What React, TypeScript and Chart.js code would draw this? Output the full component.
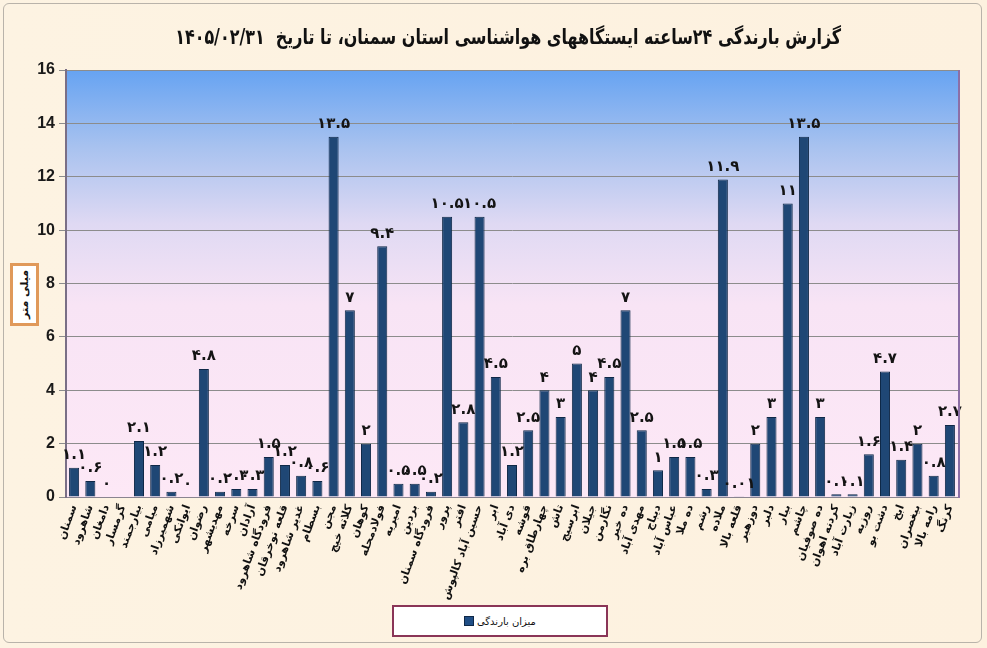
import React, { useEffect, useRef } from "react";
import { Chart, registerables } from "chart.js";

Chart.register(...registerables);

const titleText = "گزارش بارندگی ۲۴ساعته ایستگاههای هواشناسی استان سمنان، تا تاریخ  ۱۴۰۵/۰۲/۳۱";
const yAxisTitle = "میلی متر";
const seriesName = "میزان بارندگی";

const stations: string[] = [
  "سمنان", "شاهرود", "دامغان", "گرمسار", "بیارجمند", "میامی", "شهمیرزاد", "ایوانکی",
  "رضوان", "مهدیشهر", "سرخه", "آرادان", "فرودگاه شاهرود", "قلعه نوخرقان", "غدیر شاهرود",
  "بسطام", "مجن", "کلاته خیج", "کوهان", "فولادمحله", "امیریه", "بردین", "فرودگاه سمنان",
  "پرور", "افتر", "حسین آباد کالپوش", "ابر", "دی آباد", "قوشه", "چهارطاق بره", "تاش",
  "ابرسیج", "جیلان", "نگارمن", "ده خیر", "مهدی آباد", "دیباج", "عباس آباد", "ده ملا",
  "رشم", "ملاده", "قلعه بالا", "دوزهیر", "دلبر", "بیار", "چاشم", "ده صوفیان",
  "کردنه اهوان", "زیارت آباد", "روزیه", "دشت بو", "ابخ", "بیغصران", "رامه بالا", "کرنگ",
];

const rainfall: (number | null)[] = [
  1.1, 0.6, 0, null, 2.1, 1.2, 0.2, 0,
  4.8, 0.2, 0.3, 0.3, 1.5, 1.2, 0.8,
  0.6, 13.5, 7, 2, 9.4, 0.5, 0.5, 0.2,
  10.5, 2.8, 10.5, 4.5, 1.2, 2.5, 4, 3,
  5, 4, 4.5, 7, 2.5, 1, 1.5, 1.5,
  0.3, 11.9, 0.01, 2, 3, 11, 13.5, 3,
  0.1, 0.1, 1.6, 4.7, 1.4, 2, 0.8, 2.7,
];

const yMin = 0;
const yMax = 16;
const yStep = 2;

const faDigits = "۰۱۲۳۴۵۶۷۸۹";
const toFa = (s: string) => s.replace(/[0-9]/g, (d) => faDigits[+d]);

const W = 987;
const H = 648;
const PLOT_LEFT = 66;
const PLOT_RIGHT = 958;
const PLOT_TOP = 70;
const PLOT_BOTTOM = 497;

const bgPlugin = {
  id: "plotBg",
  beforeDraw(chart: any) {
    const { ctx, chartArea } = chart;
    const { left, right, top, bottom } = chartArea;
    const g = ctx.createLinearGradient(0, top, 0, bottom);
    g.addColorStop(0, "#66a3f2");
    g.addColorStop(0.18, "#a8c2ef");
    g.addColorStop(0.36, "#dfd9f3");
    g.addColorStop(0.55, "#f8e4f5");
    g.addColorStop(1, "#fde8f6");
    ctx.save();
    ctx.fillStyle = g;
    ctx.fillRect(left, top, right - left, bottom - top);
    ctx.restore();
  },
  afterDraw(chart: any) {
    const { ctx, chartArea } = chart;
    const { right, top, bottom } = chartArea;
    ctx.save();
    ctx.strokeStyle = "#8c6fa6";
    ctx.lineWidth = 2;
    ctx.beginPath();
    ctx.moveTo(right + 1, top);
    ctx.lineTo(right + 1, bottom + 1);
    ctx.stroke();
    ctx.restore();
  },
};

const valueLabelPlugin = {
  id: "valueLabels",
  afterDatasetsDraw(chart: any) {
    const { ctx } = chart;
    const meta = chart.getDatasetMeta(0);
    const data = chart.data.datasets[0].data;
    ctx.save();
    ctx.font = "bold 15px 'DejaVu Sans', sans-serif";
    ctx.fillStyle = "#141414";
    ctx.textAlign = "center";
    ctx.textBaseline = "bottom";
    meta.data.forEach((el: any, i: number) => {
      const v = data[i];
      if (v === null || v === undefined) return;
      ctx.fillText(toFa(String(v)), el.x, el.y - 5);
    });
    ctx.restore();
  },
};

export default function App() {
  const canvasRef = useRef<HTMLCanvasElement | null>(null);

  useEffect(() => {
    document.body.style.margin = "0";
    const canvas = canvasRef.current;
    if (!canvas) return;
    const chart = new Chart(canvas, {
      type: "bar",
      data: {
        labels: stations,
        datasets: [
          {
            label: seriesName,
            data: rainfall,
            backgroundColor: "#1f4775",
            borderColor: "#0f2847",
            borderWidth: 1,
            barPercentage: 0.62,
            categoryPercentage: 1,
          },
        ],
      },
      options: {
        responsive: false,
        animation: false,
        devicePixelRatio: 1,
        layout: {
          padding: { top: PLOT_TOP, right: W - PLOT_RIGHT, left: 0, bottom: 0 },
        },
        plugins: {
          legend: { display: false },
          title: { display: false },
          tooltip: { enabled: false },
        },
        scales: {
          x: {
            afterFit: (scale: any) => {
              scale.height = H - PLOT_BOTTOM;
            },
            grid: { display: false, drawTicks: false },
            border: { display: true, color: "#8a8490", width: 1 },
            ticks: {
              autoSkip: false,
              minRotation: 70,
              maxRotation: 70,
              padding: 6,
              color: "#111",
              font: { family: "'DejaVu Sans', sans-serif", size: 11, weight: "bold" },
            },
          },
          y: {
            min: yMin,
            max: yMax,
            afterFit: (scale: any) => {
              scale.width = PLOT_LEFT;
            },
            grid: {
              color: "#8c8c8c",
              lineWidth: 1,
              drawTicks: true,
              tickLength: 7,
            },
            border: { display: true, color: "#7a6f86", width: 2 },
            ticks: {
              stepSize: yStep,
              padding: 4,
              color: "#1a1a1a",
              font: { family: "'Liberation Sans', Arial, sans-serif", size: 16, weight: "bold" },
            },
          },
        },
      },
      plugins: [bgPlugin, valueLabelPlugin],
    });
    return () => chart.destroy();
  }, []);

  return (
    <div
      style={{
        position: "relative",
        width: W,
        height: H,
        background: "linear-gradient(90deg, #fdf3e2 0%, #fdf1df 100%)",
        overflow: "hidden",
      }}
    >
      <div
        style={{
          position: "absolute",
          left: 3,
          top: 3,
          width: W - 8,
          height: H - 8,
          border: "1px solid #b9b3aa",
          borderRadius: 6,
          boxSizing: "border-box",
        }}
      />
      <canvas ref={canvasRef} width={W} height={H} style={{ position: "absolute", left: 0, top: 0 }} />
      <div
        style={{
          position: "absolute",
          left: 0,
          top: 25,
          width: 1016,
          display: "flex",
          justifyContent: "center",
        }}
      >
        <div
          dir="rtl"
          style={{
            transform: "scale(0.76, 1)",
            fontFamily: "'DejaVu Sans', sans-serif",
            fontWeight: "bold",
            fontSize: 21,
            color: "#111",
            whiteSpace: "pre",
          }}
        >
          {titleText}
        </div>
      </div>
      <div
        style={{
          position: "absolute",
          left: 10,
          top: 263,
          width: 29,
          height: 63,
          border: "3px solid #e0995a",
          background: "#ffffff",
          boxSizing: "border-box",
          display: "flex",
          alignItems: "center",
          justifyContent: "center",
        }}
      >
        <div
          dir="rtl"
          style={{
            transform: "rotate(-90deg)",
            whiteSpace: "nowrap",
            fontFamily: "'DejaVu Sans', sans-serif",
            fontWeight: "bold",
            fontSize: 11,
            color: "#111",
          }}
        >
          {yAxisTitle}
        </div>
      </div>
      <div
        style={{
          position: "absolute",
          left: 392,
          top: 605,
          width: 216,
          height: 32,
          border: "2px solid #8a3557",
          background: "#ffffff",
          boxSizing: "border-box",
          display: "flex",
          alignItems: "center",
          justifyContent: "center",
          gap: 3,
        }}
      >
        <span style={{ display: "inline-block", width: 8, height: 8, background: "#1f4e85", border: "1px solid #0f2847" }} />
        <span dir="rtl" style={{ fontFamily: "'DejaVu Sans', sans-serif", fontSize: 10, color: "#111" }}>
          {seriesName}
        </span>
      </div>
    </div>
  );
}
